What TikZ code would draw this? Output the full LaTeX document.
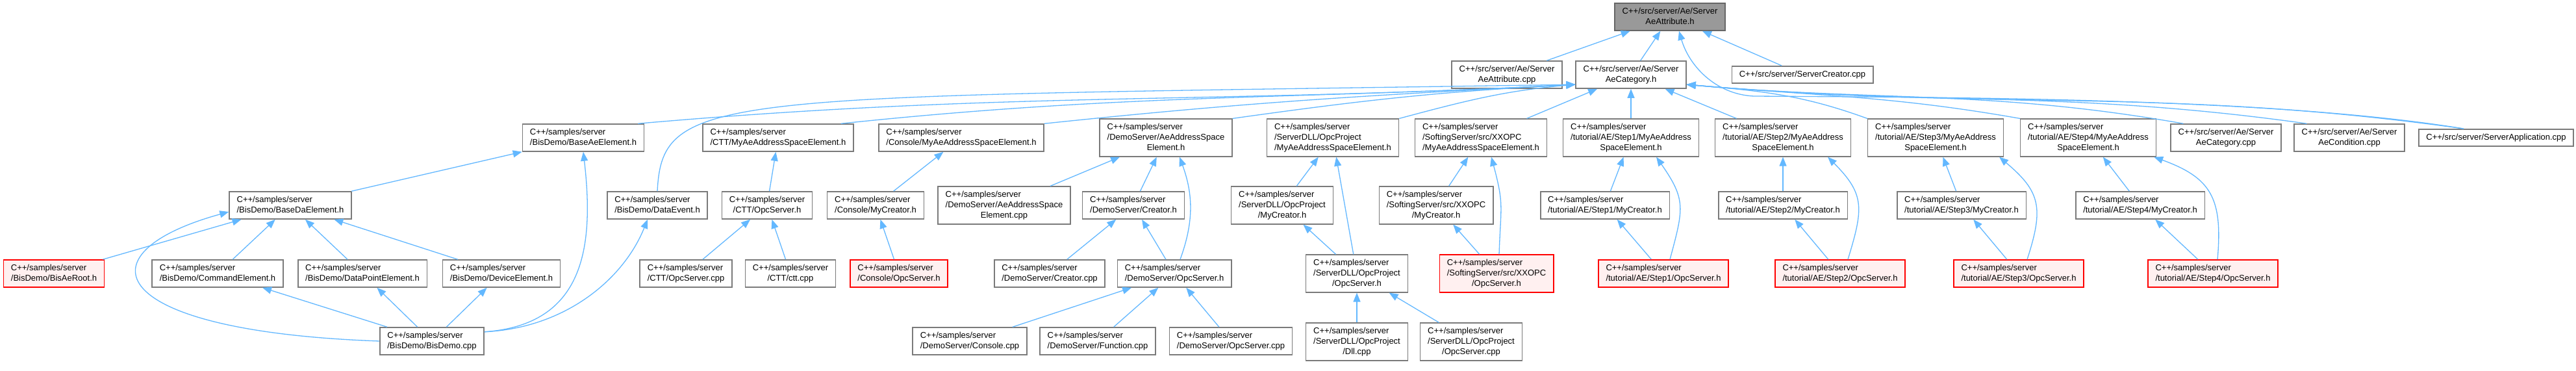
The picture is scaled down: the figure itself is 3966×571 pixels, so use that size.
\documentclass[tikz,border=0pt]{standalone}
\usepackage{xcolor}
\usepackage{fontspec}
\setmainfont{Liberation Sans}
\usepackage{tikz}
\usetikzlibrary{arrows.meta, positioning}
\definecolor{edgeblue}{HTML}{63B8FF}
\definecolor{boxgrey}{HTML}{7A7A7A}
\definecolor{rootgrey}{HTML}{999999}
\definecolor{rootline}{HTML}{666666}
\definecolor{hitred}{HTML}{FF0000}
\definecolor{hitfill}{HTML}{FFF0F0}

\begin{document}
\begin{tikzpicture}[
    x=0.5pt, y=-0.5pt,
    filebox/.style={rectangle, draw=boxgrey, fill=white, line width=0.8pt,
                    inner xsep=5.75pt, inner ysep=3.5pt, text depth=1.4pt,
                    align=left, font=\fontsize{6.5}{7.85}\selectfont},
    rootbox/.style={filebox, draw=rootline, fill=rootgrey},
    redbox/.style={filebox, draw=hitred, fill=hitfill},
    incl/.style={-{Triangle[length=7pt, width=5.5pt]}, edgeblue, line width=0.65pt}
]
\path[use as bounding box, fill=white] (0,0) rectangle (3966,571);

% Nodes
\node[rootbox] (attrh) at (2571,26) {C++/src/server/Ae/Server\\\hfil AeAttribute.h};

\node[filebox] (attrcpp) at (2320,115) {C++/src/server/Ae/Server\\\hfil AeAttribute.cpp};
\node[filebox] (cath) at (2511,115) {C++/src/server/Ae/Server\\\hfil AeCategory.h};
\node[filebox] (srvcreator) at (2775,115) {C++/src/server/ServerCreator.cpp};

\node[filebox] (baseae) at (898,212) {C++/samples/server\\/BisDemo/BaseAeElement.h};
\node[filebox] (cttae) at (1198,212) {C++/samples/server\\/CTT/MyAeAddressSpaceElement.h};
\node[filebox] (consae) at (1480,212) {C++/samples/server\\/Console/MyAeAddressSpaceElement.h};
\node[filebox] (demoae) at (1795,212) {C++/samples/server\\/DemoServer/AeAddressSpace\\\hfil Element.h};
\node[filebox] (dllae) at (2052,212) {C++/samples/server\\/ServerDLL/OpcProject\\/MyAeAddressSpaceElement.h};
\node[filebox] (xxae) at (2280,212) {C++/samples/server\\/SoftingServer/src/XXOPC\\/MyAeAddressSpaceElement.h};
\node[filebox] (s1ae) at (2511,212) {C++/samples/server\\/tutorial/AE/Step1/MyAeAddress\\\hfil SpaceElement.h};
\node[filebox] (s2ae) at (2745,212) {C++/samples/server\\/tutorial/AE/Step2/MyAeAddress\\\hfil SpaceElement.h};
\node[filebox] (s3ae) at (2980,212) {C++/samples/server\\/tutorial/AE/Step3/MyAeAddress\\\hfil SpaceElement.h};
\node[filebox] (s4ae) at (3215,212) {C++/samples/server\\/tutorial/AE/Step4/MyAeAddress\\\hfil SpaceElement.h};
\node[filebox] (catcpp) at (3427,212) {C++/src/server/Ae/Server\\\hfil AeCategory.cpp};
\node[filebox] (condcpp) at (3617,212) {C++/src/server/Ae/Server\\\hfil AeCondition.cpp};
\node[filebox] (appcpp) at (3843,212) {C++/src/server/ServerApplication.cpp};

\node[filebox] (baseda) at (447,316) {C++/samples/server\\/BisDemo/BaseDaElement.h};
\node[filebox] (dataevt) at (1012,316) {C++/samples/server\\/BisDemo/DataEvent.h};
\node[filebox] (cttsrv) at (1181,316) {C++/samples/server\\\hfil /CTT/OpcServer.h};
\node[filebox] (conscr) at (1348,316) {C++/samples/server\\/Console/MyCreator.h};
\node[filebox] (demoaecpp) at (1546,316) {C++/samples/server\\/DemoServer/AeAddressSpace\\\hfil Element.cpp};
\node[filebox] (democr) at (1745,316) {C++/samples/server\\/DemoServer/Creator.h};
\node[filebox] (dllcr) at (1974,316) {C++/samples/server\\/ServerDLL/OpcProject\\\hfil /MyCreator.h};
\node[filebox] (xxcr) at (2211,316) {C++/samples/server\\/SoftingServer/src/XXOPC\\\hfil /MyCreator.h};
\node[filebox] (s1cr) at (2471,316) {C++/samples/server\\/tutorial/AE/Step1/MyCreator.h};
\node[filebox] (s2cr) at (2745,316) {C++/samples/server\\/tutorial/AE/Step2/MyCreator.h};
\node[filebox] (s3cr) at (3020,316) {C++/samples/server\\/tutorial/AE/Step3/MyCreator.h};
\node[filebox] (s4cr) at (3295,316) {C++/samples/server\\/tutorial/AE/Step4/MyCreator.h};

\node[redbox] (bisroot) at (83,421) {C++/samples/server\\/BisDemo/BisAeRoot.h};
\node[filebox] (cmdel) at (335,421) {C++/samples/server\\/BisDemo/CommandElement.h};
\node[filebox] (dpel) at (558,421) {C++/samples/server\\/BisDemo/DataPointElement.h};
\node[filebox] (devel) at (772,421) {C++/samples/server\\/BisDemo/DeviceElement.h};
\node[filebox] (cttsrvcpp) at (1056,421) {C++/samples/server\\/CTT/OpcServer.cpp};
\node[filebox] (cttcpp) at (1217,421) {C++/samples/server\\\hfil /CTT/ctt.cpp};
\node[redbox] (conssrv) at (1384,421) {C++/samples/server\\/Console/OpcServer.h};
\node[filebox] (democrcpp) at (1616,421) {C++/samples/server\\/DemoServer/Creator.cpp};
\node[filebox] (demosrv) at (1808,421) {C++/samples/server\\/DemoServer/OpcServer.h};
\node[filebox] (dllsrv) at (2089,421) {C++/samples/server\\/ServerDLL/OpcProject\\\hfil /OpcServer.h};
\node[redbox] (xxsrv) at (2304,421) {C++/samples/server\\/SoftingServer/src/XXOPC\\\hfil /OpcServer.h};
\node[redbox] (s1srv) at (2561,421) {C++/samples/server\\/tutorial/AE/Step1/OpcServer.h};
\node[redbox] (s2srv) at (2833,421) {C++/samples/server\\/tutorial/AE/Step2/OpcServer.h};
\node[redbox] (s3srv) at (3108,421) {C++/samples/server\\/tutorial/AE/Step3/OpcServer.h};
\node[redbox] (s4srv) at (3407,421) {C++/samples/server\\/tutorial/AE/Step4/OpcServer.h};

\node[filebox] (bisdemo) at (665,525) {C++/samples/server\\/BisDemo/BisDemo.cpp};
\node[filebox] (democons) at (1493,525) {C++/samples/server\\/DemoServer/Console.cpp};
\node[filebox] (demofunc) at (1690,525) {C++/samples/server\\/DemoServer/Function.cpp};
\node[filebox] (demosrvcpp) at (1895,525) {C++/samples/server\\/DemoServer/OpcServer.cpp};
\node[filebox] (dlldll) at (2089,526) {C++/samples/server\\/ServerDLL/OpcProject\\\hfil /Dll.cpp};
\node[filebox] (dllsrvcpp) at (2265,526) {C++/samples/server\\/ServerDLL/OpcProject\\\hfil /OpcServer.cpp};

% Includes of AeAttribute.h
\draw[incl] (attrcpp) -- (attrh);
\draw[incl] (cath) -- (attrh);
\draw[incl] (srvcreator) -- (attrh);
\draw[incl] ([xshift=-25pt]appcpp.north) .. controls (3500,150) and (3000,150) .. (2700,148)
    .. controls (2640,145) and (2600,100) .. ([xshift=7pt]attrh.south);

% Includes of AeCategory.h
\draw[incl] ([xshift=-5pt]baseae.north east) to[out=5, in=183] (cath.190);
\draw[incl] (dataevt.north) .. controls (1020,140) and (1100,150) .. (cath.190);
\draw[incl] ([xshift=-10pt]cttae.north east) to[out=6, in=183] (cath.190);
\draw[incl] (consae.north east) to[out=6, in=183] (cath.190);
\draw[incl] (demoae.north east) to[out=8, in=183] (cath.190);
\draw[incl] (dllae.north east) to[out=15, in=185] (cath.190);
\draw[incl] (xxae) -- (cath);
\draw[incl] (s1ae) -- (cath);
\draw[incl] (s2ae) -- (cath);
\draw[incl] (s3ae.north west) to[out=160, in=-5] (cath.-10);
\draw[incl] (s4ae.north west) to[out=170, in=-5] (cath.-10);
\draw[incl] ([xshift=10pt]catcpp.north west) to[out=170, in=-5] (cath.-10);
\draw[incl] ([xshift=10pt]condcpp.north west) to[out=172, in=-5] (cath.-10);
\draw[incl] ([xshift=-25pt]appcpp.north) to[out=172, in=-5] (cath.-10);

% BisDemo
\draw[incl] (baseda) -- (baseae);
\draw[incl] (bisdemo.10) .. controls (900,500) and (915,380) .. (baseae.south);
\draw[incl] (bisdemo.10) .. controls (870,505) and (960,430) .. ([xshift=-7.5pt]dataevt.south);
\draw[incl] (bisroot) -- (baseda);
\draw[incl] (cmdel) -- (baseda);
\draw[incl] (dpel) -- (baseda);
\draw[incl] (devel) -- (baseda);
\draw[incl] (bisdemo.west) .. controls (160,510) and (120,390) .. ([yshift=-5pt]baseda.west);
\draw[incl] (bisdemo) -- (cmdel);
\draw[incl] (bisdemo) -- (dpel);
\draw[incl] (bisdemo) -- (devel);

% CTT and Console
\draw[incl] (cttsrv) -- (cttae);
\draw[incl] (cttsrvcpp) -- (cttsrv);
\draw[incl] (cttcpp) -- (cttsrv);
\draw[incl] (conscr) -- (consae);
\draw[incl] (conssrv) -- (conscr);

% DemoServer
\draw[incl] (demoaecpp) -- (demoae);
\draw[incl] (democr) -- (demoae);
\draw[incl] ([xshift=4.5pt]demosrv.north) to[out=70, in=-70] ([xshift=10.5pt]demoae.south);
\draw[incl] (democrcpp) -- (democr);
\draw[incl] (demosrv) -- (democr);
\draw[incl] (democons) -- (demosrv);
\draw[incl] (demofunc) -- (demosrv);
\draw[incl] (demosrvcpp) -- (demosrv);

% ServerDLL
\draw[incl] (dllcr) -- (dllae);
\draw[incl] (dllsrv) -- (dllae);
\draw[incl] (dllsrv) -- (dllcr);
\draw[incl] (dlldll) -- (dllsrv);
\draw[incl] (dllsrvcpp) -- (dllsrv);

% SoftingServer
\draw[incl] (xxcr) -- (xxae);
\draw[incl] ([xshift=2pt]xxsrv.north) to[out=88, in=-75, looseness=1.3] ([xshift=8pt]xxae.south);
\draw[incl] (xxsrv) -- (xxcr);

% Tutorial steps
\draw[incl] (s1cr) -- (s1ae);
\draw[incl] ([xshift=5pt]s1srv.north) to[out=75, in=-55, looseness=1.3] ([xshift=19.5pt]s1ae.south);
\draw[incl] (s1srv) -- (s1cr);
\draw[incl] (s2cr) -- (s2ae);
\draw[incl] ([xshift=6pt]s2srv.north) to[out=73, in=-45, looseness=1.3] ([xshift=34.5pt]s2ae.south);
\draw[incl] (s2srv) -- (s2cr);
\draw[incl] (s3cr) -- (s3ae);
\draw[incl] ([xshift=6.5pt]s3srv.north) to[out=72, in=-40, looseness=1.3] ([xshift=49pt]s3ae.south);
\draw[incl] (s3srv) -- (s3cr);
\draw[incl] (s4cr) -- (s4ae);
\draw[incl] ([xshift=3.5pt]s4srv.north) to[out=85, in=-20, looseness=1.3] ([xshift=-2pt]s4ae.south east);
\draw[incl] (s4srv) -- (s4cr);
\end{tikzpicture}
\end{document}
